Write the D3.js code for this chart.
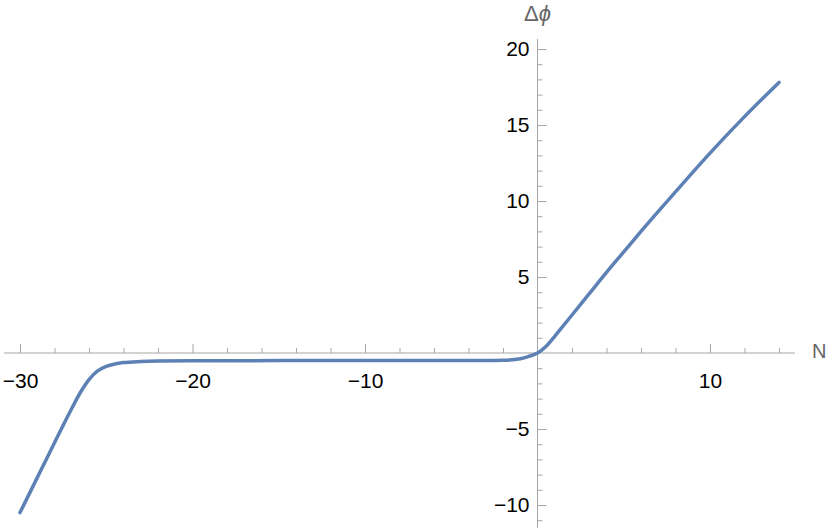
<!DOCTYPE html>
<html>
<head>
<meta charset="utf-8">
<script src="https://cdn.jsdelivr.net/npm/d3@7"></script>
<style>
  body { margin: 0; background: #fff; }
  text { font-family: "Liberation Sans", Arial, sans-serif; }
</style>
</head>
<body>
<div id="chart"></div>
<script>
// curve samples
const nValues = [-30, -29.5, -29, -28.5, -28, -27.5, -27, -26.5, -26, -25.5, -25, -24.5, -24, -23, -22, -20,
  -15, -10, -5, -3, -2, -1.5, -1, -0.5, 0, 0.5, 1, 1.5, 2, 3, 4, 5, 6, 8, 10, 12, 14];
const dphiValues = [-10.5, -9.35, -8.2, -7.05, -5.9, -4.76, -3.65, -2.6, -1.75, -1.18, -0.88, -0.72, -0.63, -0.56, -0.53, -0.51,
  -0.5, -0.5, -0.5, -0.5, -0.48, -0.45, -0.38, -0.22, 0, 0.45, 1.1, 1.8, 2.5, 3.9, 5.3, 6.65, 8.0, 10.6, 13.15, 15.55, 17.8];

const xMajor = [-30, -20, -10, 10];
const xMinor = [-28, -26, -24, -22, -18, -16, -14, -12, -8, -6, -4, -2, 2, 4, 6, 8, 12, 14];
const yMajor = [-10, -5, 5, 10, 15, 20];
const yMinor = d3.range(-11, 21).filter(v => v % 5 !== 0);

const width = 830, height = 531;

const svg = d3.select("#chart")
  .append("svg")
    .attr("width", width)
    .attr("height", height);

const x = d3.scaleLinear()
    .domain([-30, 10])
    .range([20, 710]);

const y = d3.scaleLinear()
    .domain([0, 20])
    .range([353, 49]);

const axisColor = "#a6a6a6";

// axis lines
svg.append("line")
    .attr("x1", x(-30.93)).attr("x2", x(14.93))
    .attr("y1", y(0)).attr("y2", y(0))
    .attr("stroke", axisColor);
svg.append("line")
    .attr("x1", x(0)).attr("x2", x(0))
    .attr("y1", y(20.66)).attr("y2", y(-11.5))
    .attr("stroke", axisColor);

// x ticks (pointing up), labels below
const xMinorG = svg.append("g")
    .attr("transform", "translate(0," + y(0) + ")")
    .call(d3.axisTop(x).tickValues(xMinor).tickSize(5).tickFormat(""));
const xMajorG = svg.append("g")
    .attr("transform", "translate(0," + y(0) + ")")
    .call(d3.axisTop(x).tickValues(xMajor).tickSize(9));
xMajorG.selectAll("text")
    .attr("y", 20)
    .attr("dy", "0.71em");

// y ticks (pointing right), labels left
const yMinorG = svg.append("g")
    .attr("transform", "translate(" + x(0) + ",0)")
    .call(d3.axisRight(y).tickValues(yMinor).tickSize(5).tickFormat(""));
const yMajorG = svg.append("g")
    .attr("transform", "translate(" + x(0) + ",0)")
    .call(d3.axisRight(y).tickValues(yMajor).tickSize(9));
yMajorG.selectAll("text")
    .attr("x", -8)
    .attr("text-anchor", "end");

[xMinorG, xMajorG, yMinorG, yMajorG].forEach(g => {
  g.select(".domain").remove();
  g.selectAll("line").attr("stroke", axisColor);
  g.selectAll("text")
    .attr("fill", "#000")
    .style("font-size", "21px")
    .style("font-family", "'Liberation Sans', Arial, sans-serif");
});

// axis labels
const yLabel = svg.append("text")
    .attr("x", x(0))
    .attr("y", 21)
    .attr("text-anchor", "middle")
    .attr("fill", "#666")
    .style("font-size", "22px");
yLabel.append("tspan").text("Δ");
yLabel.append("tspan").style("font-style", "italic").text("ϕ");

svg.append("text")
    .attr("x", 812)
    .attr("y", 358)
    .attr("fill", "#666")
    .style("font-size", "20px")
    .text("N");

// curve
const points = nValues.map((n, i) => [n, dphiValues[i]]);
svg.append("path")
    .datum(points)
    .attr("fill", "none")
    .attr("stroke", "#5e81b5")
    .attr("stroke-width", 3.5)
    .attr("stroke-linecap", "round")
    .attr("d", d3.line()
        .x(d => x(d[0]))
        .y(d => y(d[1]))
        .curve(d3.curveMonotoneX));
</script>
</body>
</html>
